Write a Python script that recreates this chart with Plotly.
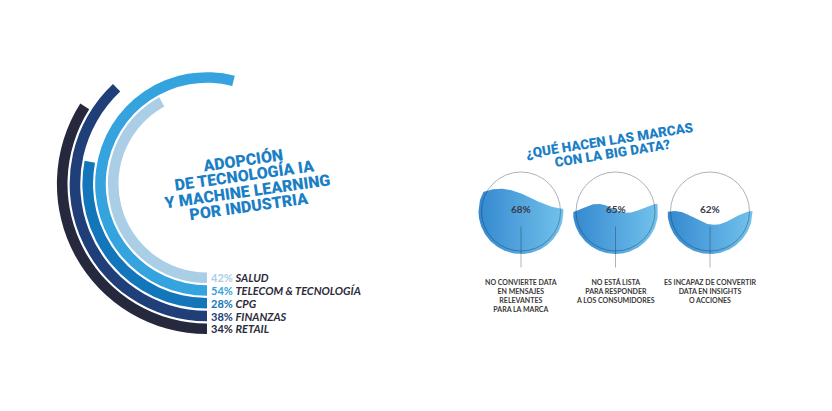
import numpy as np
import plotly.graph_objects as go

# ---------------- data ----------------
industries = ["SALUD", "TELECOM & TECNOLOGÍA", "CPG", "FINANZAS", "RETAIL"]
adoption_pct = [42, 54, 28, 38, 34]
ring_colors = ["#aacee6", "#34a3de", "#1476ba", "#203e78", "#26283e"]

left_title_lines = ["ADOPCIÓN", "DE TECNOLOGÍA IA", "Y MACHINE LEARNING", "POR INDUSTRIA"]
right_title_lines = ["¿QUÉ HACEN LAS MARCAS", "CON LA BIG DATA?"]

bigdata_pct = [68, 65, 62]
bigdata_labels = [
    "NO CONVIERTE DATA<br>EN MENSAJES<br>RELEVANTES<br>PARA LA MARCA",
    "NO ESTÁ LISTA<br>PARA RESPONDER<br>A LOS CONSUMIDORES",
    "ES INCAPAZ DE CONVERTIR<br>DATA EN INSIGHTS<br>O ACCIONES",
]

# ---------------- layout constants ----------------
W, H = 832, 411
FONT = "Lato"
TITLE_FONT = "Roboto"
TITLE_BLUE = "#1b7fc6"
TEXT_DARK = "#2b2b3b"

fig = go.Figure()

# ---- concentric arcs (barpolar) ----
ARC_CX, ARC_CY, POLAR_R = 207, 184, 160
R0, PITCH, THICK = 88.5, 12.75, 10.6
for i, (name, pct, col) in enumerate(zip(industries, adoption_pct, ring_colors)):
    span = pct * 3.6
    fig.add_trace(go.Barpolar(
        r=[THICK], base=[R0 + i * PITCH], theta=[span / 2], width=[span],
        marker=dict(color=col, line=dict(width=0)),
        hoverinfo="skip", showlegend=False, subplot="polar",
    ))

annotations = []
shapes = []

# labels for arcs
for i, (name, pct, col) in enumerate(zip(industries, adoption_pct, ring_colors)):
    yc = ARC_CY + R0 + i * PITCH + THICK / 2
    annotations.append(dict(
        x=209, y=yc, xref="x", yref="y", xanchor="left", yanchor="middle",
        text=f"<b><span style='color:{col}'>{pct}%</span> <i>{name}</i></b>",
        showarrow=False, font=dict(family=FONT, size=11, color=TEXT_DARK),
    ))

# rotated titles
def rotated_lines(lines, cx, cy, spacing, angle, size):
    n = len(lines)
    a = np.deg2rad(-angle)
    for k, t in enumerate(lines):
        d = (k - (n - 1) / 2) * spacing
        annotations.append(dict(
            x=cx + d * np.sin(a), y=cy + d * np.cos(a), xref="x", yref="y",
            xanchor="center", yanchor="middle", textangle=angle,
            text=t, showarrow=False,
            font=dict(family=TITLE_FONT, size=size, color=TITLE_BLUE, weight=900),
        ))

rotated_lines(left_title_lines, 245.5, 183.5, 15.5, -8, 16)
rotated_lines(right_title_lines, 611.0, 146.5, 13, -9, 13.5)

# ---- water circles ----
CIRC_X0, CIRC_DX, CIRC_CY = 521, 94.5, 211.5
R_WATER, R_LINE = 42.5, 39.5
wave_amp = [10, 4.5, 7]
wave_len = [130, 60, 80]
wave_crest = [-21, -18, -36]
for i, (pct, lab) in enumerate(zip(bigdata_pct, bigdata_labels)):
    cx = CIRC_X0 + i * CIRC_DX
    level = CIRC_CY - (pct / 100 - 0.64) * R_WATER * 7.5
    dx = np.linspace(-R_WATER, R_WATER, 241)
    half = np.sqrt(np.clip(R_WATER ** 2 - dx ** 2, 0, None))
    wave = level - wave_amp[i] * np.cos(2 * np.pi * (dx - wave_crest[i]) / wave_len[i])
    top = np.maximum(wave, CIRC_CY - half)
    bot = CIRC_CY + half
    ok = top <= bot
    xs = np.concatenate([cx + dx[ok], (cx + dx[ok])[::-1]])
    ys = np.concatenate([top[ok], bot[ok][::-1]])
    fig.add_trace(go.Scatter(
        x=xs, y=ys, mode="lines", fill="toself", line=dict(width=0),
        fillcolor="#4ea6dc",
        fillgradient=dict(type="horizontal",
                          colorscale=[[0, "#3489cf"], [1, "#72c2ec"]]),
        hoverinfo="skip", showlegend=False,
    ))
    shapes.append(dict(type="circle", xref="x", yref="y",
                       x0=cx - R_LINE, x1=cx + R_LINE,
                       y0=CIRC_CY - R_LINE, y1=CIRC_CY + R_LINE,
                       line=dict(color="rgba(25,35,60,0.35)", width=1), layer="above"))
    shapes.append(dict(type="line", xref="x", yref="y", x0=cx, x1=cx,
                       y0=CIRC_CY + 15, y1=CIRC_CY + 56,
                       line=dict(color="rgba(25,35,60,0.35)", width=1), layer="above"))
    annotations.append(dict(
        x=cx, y=CIRC_CY - 2.5, xref="x", yref="y", xanchor="center", yanchor="middle",
        text=f"<b>{pct}%</b>", showarrow=False,
        font=dict(family=FONT, size=10, color="#3a3a48"),
    ))
    annotations.append(dict(
        x=cx, y=276, xref="x", yref="y", xanchor="center", yanchor="top",
        text=f"<b>{lab}</b>", showarrow=False, align="center",
        font=dict(family=FONT, size=7, color="#3a3a3a"),
    ))

fig.update_layout(
    width=W, height=H, autosize=False,
    margin=dict(l=0, r=0, t=0, b=0),
    paper_bgcolor="white", plot_bgcolor="rgba(0,0,0,0)",
    xaxis=dict(range=[0, W], visible=False, domain=[0, 1], fixedrange=True),
    yaxis=dict(range=[H, 0], visible=False, domain=[0, 1], fixedrange=True),
    polar=dict(
        domain=dict(x=[(ARC_CX - POLAR_R) / W, (ARC_CX + POLAR_R) / W],
                    y=[(H - ARC_CY - POLAR_R) / H, (H - ARC_CY + POLAR_R) / H]),
        bgcolor="rgba(0,0,0,0)", barmode="overlay", hole=0,
        radialaxis=dict(range=[0, POLAR_R], visible=False),
        angularaxis=dict(rotation=-90, direction="clockwise", visible=False),
    ),
    annotations=annotations, shapes=shapes, showlegend=False,
)

fig.write_html("out.html", post_script="document.body.style.margin='0px';",
               config={"displayModeBar": False})
